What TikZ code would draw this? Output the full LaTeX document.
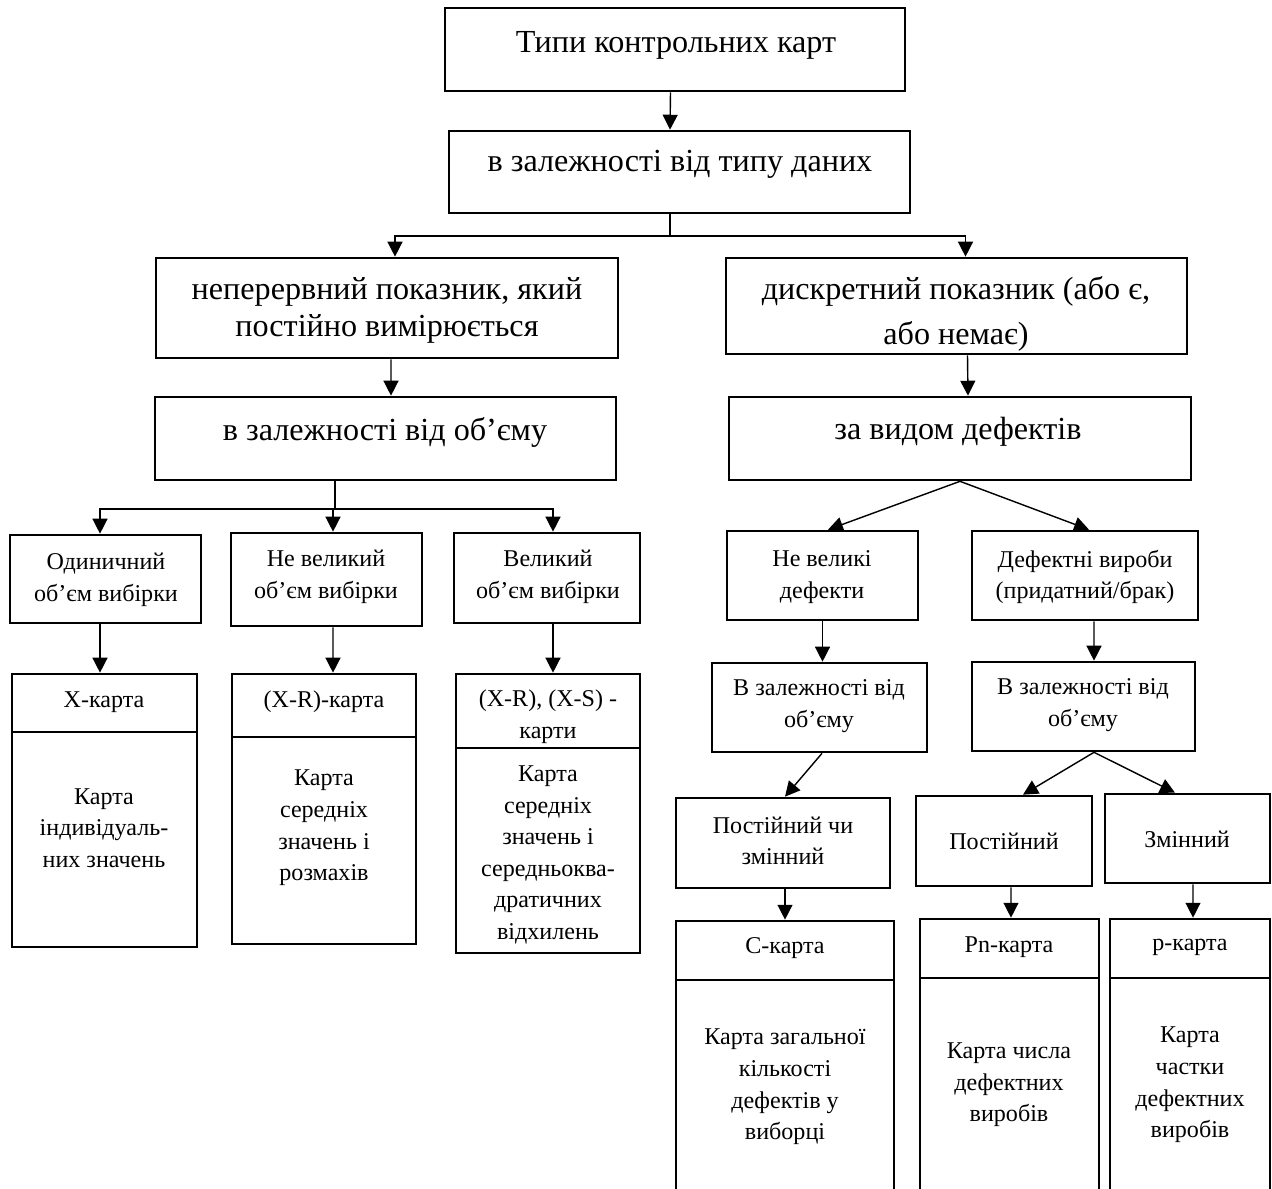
\documentclass[tikz,border=0pt]{standalone}
\usepackage{fontspec}
\setmainfont{Liberation Serif}
\usetikzlibrary{fit,calc,arrows.meta}
\tikzset{
 box/.style={draw, line width=1.5pt, inner sep=0pt},
 arr/.style={-{Triangle[length=8.5pt,width=8.5pt]}, line width=0.8pt},
 ln/.style={line width=0.8pt},
 big/.style={font=\fontsize{18.3}{21}\selectfont, align=center, inner sep=0pt},
 sm/.style={font=\fontsize{13.7}{18}\selectfont, align=center, inner sep=0pt},
}
\begin{document}
\begin{tikzpicture}[x=0.02cm,y=-0.02cm]
\clip (0,0) rectangle (1272,1189);
\fill[white] (0,0) rectangle (1272,1189);
% boxes
\node[box, fit={(445,8)(905,91)}] (n1) {};
\node[box, fit={(449,131)(910,213)}] (n2) {};
\node[box, fit={(156,258)(618,358)}] (n3L) {};
\node[box, fit={(726,258)(1187,354)}] (n3R) {};
\node[box, fit={(155,397)(616,480)}] (n4L) {};
\node[box, fit={(729,397)(1191,480)}] (n4R) {};
\node[box, fit={(10,535)(201,623)}] (sA) {};
\node[box, fit={(231,533)(422,626)}] (sB) {};
\node[box, fit={(454,533)(640,623)}] (sC) {};
\node[box, fit={(12,674)(197,732)}] (hA) {};
\node[box, fit={(12,732)(197,947)}] (bA) {};
\node[box, fit={(232,674)(416,737)}] (hB) {};
\node[box, fit={(232,737)(416,944)}] (bB) {};
\node[box, fit={(456,674)(640,748)}] (hC) {};
\node[box, fit={(456,748)(640,953)}] (bC) {};
\node[box, fit={(727,531)(918,620)}] (nv) {};
\node[box, fit={(972,531)(1198,620)}] (dv) {};
\node[box, fit={(712,663)(927,752)}] (vzl) {};
\node[box, fit={(972,662)(1195,751)}] (vzr) {};
\node[box, fit={(676,798)(890,888)}] (pcz) {};
\node[box, fit={(916,796)(1092,886)}] (pst) {};
\node[box, fit={(1105,794)(1270,883)}] (zm) {};
\node[box, fit={(676,921)(894,980)}] (hCc) {};
\node[box, fit={(676,980)(894,1220)}] (bCc) {};
\node[box, fit={(920,919)(1099,978)}] (hPn) {};
\node[box, fit={(920,978)(1099,1220)}] (bPn) {};
\node[box, fit={(1110,919)(1270,978)}] (hp) {};
\node[box, fit={(1110,978)(1270,1220)}] (bp) {};
% texts
\node[big] (t1) at (676,45) {Типи контрольних карт};
\node[big] (t2) at (680,164) {в залежності від типу даних};
\node[big] (t3L) at (387,310) {неперервний показник, який\\постійно вимірюється};
\node[big] (t3R) at (956,314) {дискретний показник (або є,\\[4.5pt]або немає)};
\node[big] (t4L) at (385,432) {в залежності від об’єму};
\node[big] (t4R) at (958,432) {за видом дефектів};
\node[sm] (tA) at (106,580) {Одиничний\\об’єм вибірки};
\node[sm] (tB) at (326,577) {Не великий\\об’єм вибірки};
\node[sm] (tC) at (548,577) {Великий\\об’єм вибірки};
\node[sm] (thA) at (104,702) {X-карта};
\node[sm] (thB) at (324,702) {(X-R)-карта};
\node[sm] (thC) at (548,717) {(X-R), (X-S) -\\карти};
\node[sm] (tbA) at (104,828) {Карта\\індивідуаль-\\них значень};
\node[sm] (tbB) at (324,828) {Карта\\середніх\\значень і\\розмахів};
\node[sm] (tbC) at (548,855) {Карта\\середніх\\значень і\\середньоква-\\дратичних\\відхилень};
\node[sm] (tnv) at (822,577) {Не великі\\дефекти};
\node[sm] (tdv) at (1085,577) {Дефектні вироби\\(придатний/брак)};
\node[sm] (tvzl) at (819,706) {В залежності від\\об’єму};
\node[sm] (tvzr) at (1083,705) {В залежності від\\об’єму};
\node[sm] (tpcz) at (783,841) {Постійний чи\\змінний};
\node[sm] (tpst) at (1004,841) {Постійний};
\node[sm] (tzm) at (1187,839) {Змінний};
\node[sm] (thCc) at (785,948) {C-карта};
\node[sm] (thPn) at (1009,947) {Pn-карта};
\node[sm] (thp) at (1190,947) {p-карта};
\node[sm] (tbCc) at (785,1087) {Карта загальної\\кількості\\дефектів у\\виборці};
\node[sm] (tbPn) at (1009,1085) {Карта числа\\дефектних\\виробів};
\node[sm] (tbp) at (1190,1085) {Карта\\частки\\дефектних\\виробів};
% connectors
\draw[arr] ($(n1.south)+(-4.5,0)$) -- ($(n2.north)+(-9.5,0)$);
\coordinate (j1) at (670,236);
\draw[ln] (n2.south -| j1) -- (j1);
\draw[arr] (j1) -| ($(n3L.north)+(8,0)$);
\draw[arr] (j1) -| ($(n3R.north)+(9,0)$);
\draw[arr] ($(n3L.south)+(4,0)$) -- ($(n4L.north)+(5.5,0)$);
\draw[arr] ($(n3R.south)+(11,0)$) -- ($(n4R.north)+(8,0)$);
\coordinate (j2) at (335,509);
\draw[ln] (n4L.south -| j2) -- (j2);
\draw[arr] (j2) -| ($(sA.north)+(-5.5,0)$);
\draw[arr] (j2) -| ($(sB.north)+(6.5,0)$);
\draw[arr] (j2) -| ($(sC.north)+(6,0)$);
\draw[arr] ($(sA.south)+(-5.5,0)$) -- ($(hA.north)+(-4.5,0)$);
\draw[arr] ($(sB.south)+(6.5,0)$) -- ($(hB.north)+(9,0)$);
\draw[arr] ($(sC.south)+(6,0)$) -- ($(hC.north)+(5,0)$);
\draw[arr] (n4R.south) -- ($(nv.north)+(5.5,0)$);
\draw[arr] (n4R.south) -- ($(dv.north)+(4,0)$);
\draw[arr] (nv.south) -- (nv.south |- vzl.north);
\draw[arr] ($(dv.south)+(9,0)$) -- ($(vzr.north)+(10.5,0)$);
\draw[arr] ($(vzl.south)+(2.5,0)$) -- ($(pcz.north)+(2,0)$);
\draw[arr] ($(vzr.south)+(10.5,0)$) -- ($(pst.north)+(19,0)$);
\draw[arr] ($(vzr.south)+(10.5,0)$) -- ($(zm.north)+(-12.5,0)$);
\draw[arr] ($(pcz.south)+(2,0)$) -- (hCc.north);
\draw[arr] ($(pst.south)+(7,0)$) -- ($(hPn.north)+(1.5,0)$);
\draw[arr] ($(zm.south)+(5.5,0)$) -- ($(hp.north)+(3,0)$);
\end{tikzpicture}
\end{document}
